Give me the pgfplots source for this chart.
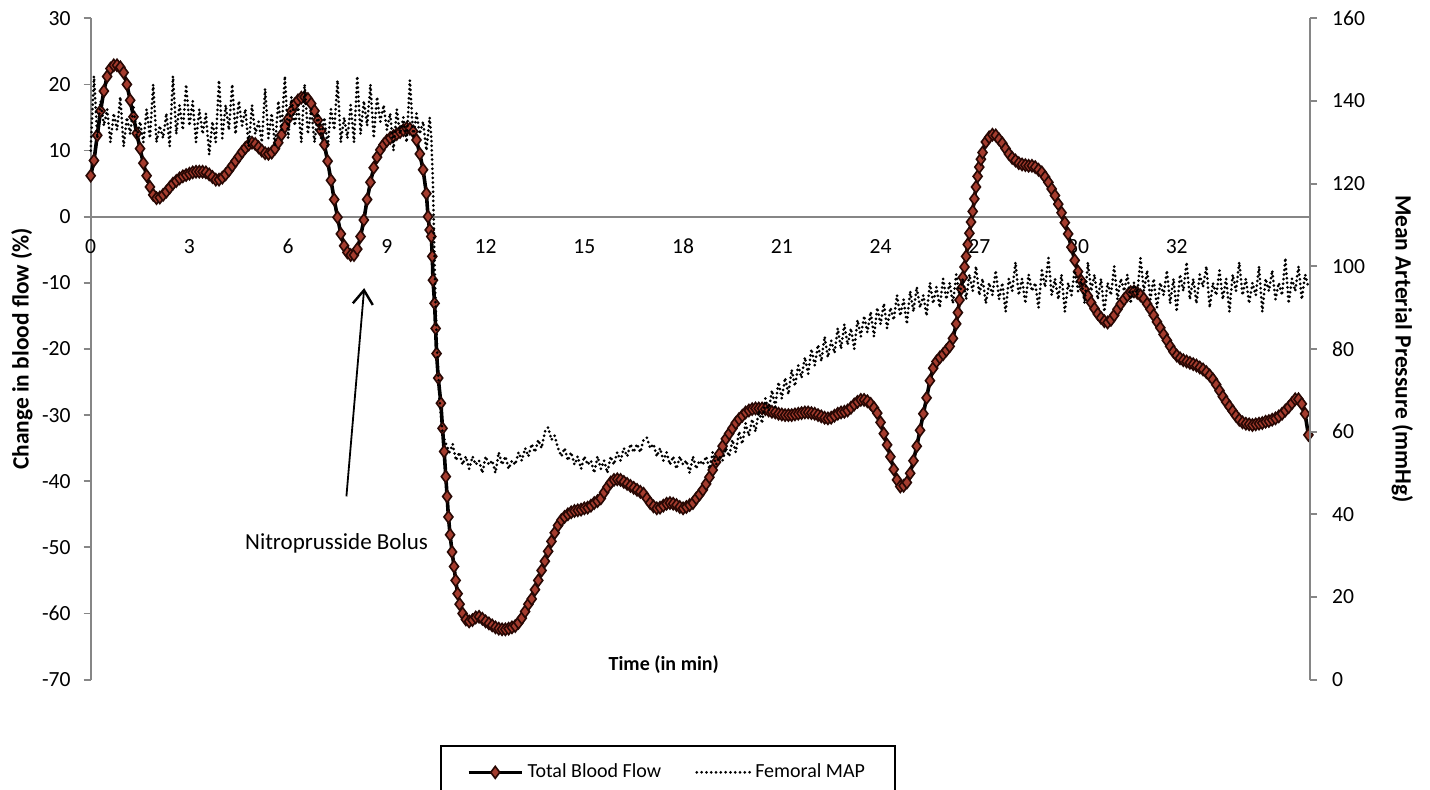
\documentclass[border=0pt]{standalone}
\usepackage{fontspec}
\setmainfont{Carlito}
\usepackage{pgfplots}
\pgfplotsset{compat=1.18}
\usetikzlibrary{arrows.meta}
\definecolor{axisgray}{RGB}{134,134,134}
\definecolor{flowred}{RGB}{164,60,46}
\definecolor{flowdark}{RGB}{40,8,4}
\begin{document}
\begin{tikzpicture}
\path[use as bounding box] (-45.35pt,-54.7pt) rectangle (669.65pt,339.8pt);
\begin{axis}[
  at={(0pt,0pt)}, anchor=south west,
  scale only axis, width=609.65pt, height=330.65pt,
  xmin=0, xmax=37.05, ymin=-70, ymax=30,
  clip=false,
  axis x line*=middle, axis y line*=left,
  hide obscured x ticks=false,
  x axis line style={draw=axisgray, line width=0.9pt, -},
  y axis line style={draw=axisgray, line width=0.9pt, -},
  xtick={0,3,6,9,12,15,18,21,24,27,30,33},
  xticklabels={0,3,6,9,12,15,18,21,24,27,30,32},
  xtick style={draw=none},
  ytick={-70,-60,-50,-40,-30,-20,-10,0,10,20,30},
  yticklabels={-70,-60,-50,-40,-30,-20,-10,0,10,20,30},
  ytick style={draw=axisgray, line width=0.9pt},
  tick align=outside, major tick length=3.5pt,
  tick label style={font=\fontsize{10.8}{13}\selectfont},
  xticklabel style={anchor=base, yshift=-15pt},
  yticklabel style={xshift=-3pt},
  ylabel={\textbf{Change in blood flow (\%)}},
  ylabel style={at={(axis description cs:-0.0563,0.5)}, anchor=center, rotate=0, font=\fontsize{11.7}{14}\selectfont},
  xlabel={\textbf{Time (in min)}},
  xlabel style={at={(axis description cs:0.470,0.022)}, anchor=center, font=\fontsize{10}{12}\selectfont},
  legend columns=2,
  legend cell align=left,
  legend style={at={(axis description cs:0.2865,-0.0989)}, anchor=north west,
    draw=black, line width=0.9pt, inner xsep=13pt, inner ysep=7pt,
    font=\fontsize{10}{12}\selectfont,
    /tikz/every even column/.append style={column sep=15pt}},
  legend image code/.code={\draw[mark repeat=2,mark phase=2,#1] plot coordinates {(0pt,0pt) (13.25pt,0pt) (26.5pt,0pt)};},
]
\addplot[draw=black, line width=1.8pt, mark=diamond*, mark size=3pt,
  mark options={solid, fill=flowred, draw=flowdark, line width=0.8pt}] coordinates {
(0.0,6.2) (0.1,8.5) (0.2,12.3) (0.3,16.0) (0.4,19.0) (0.5,21.2) (0.6,22.4) (0.7,22.9) (0.8,22.9) (0.9,22.6)
(1.0,21.8) (1.1,20.0) (1.2,17.6) (1.3,15.1) (1.4,12.6) (1.5,10.3) (1.6,8.1) (1.7,6.2) (1.8,4.5) (1.9,3.3)
(2.0,2.8) (2.1,2.9) (2.2,3.3) (2.3,3.8) (2.4,4.4) (2.5,5.0) (2.6,5.4) (2.7,5.8) (2.8,6.1) (2.9,6.3)
(3.0,6.5) (3.1,6.7) (3.2,6.8) (3.3,6.8) (3.4,6.8) (3.5,6.7) (3.6,6.4) (3.7,6.0) (3.8,5.6) (3.9,5.6)
(4.0,5.9) (4.1,6.4) (4.2,7.0) (4.3,7.7) (4.4,8.4) (4.5,9.1) (4.6,9.8) (4.7,10.4) (4.8,10.9) (4.9,11.2)
(5.0,11.0) (5.1,10.5) (5.2,10.0) (5.3,9.6) (5.4,9.5) (5.5,9.7) (5.6,10.3) (5.7,11.2) (5.8,12.4) (5.9,13.6)
(6.0,14.8) (6.1,16.0) (6.2,17.0) (6.3,17.6) (6.4,18.0) (6.5,18.1) (6.6,17.8) (6.7,17.1) (6.8,16.0) (6.9,14.6)
(7.0,13.0) (7.1,10.9) (7.2,8.4) (7.3,5.5) (7.4,2.6) (7.5,-0.1) (7.6,-2.6) (7.7,-4.4) (7.8,-5.4) (7.9,-5.8)
(8.0,-5.8) (8.1,-4.9) (8.2,-3.0) (8.3,-0.5) (8.4,2.6) (8.5,5.2) (8.6,7.4) (8.7,9.0) (8.8,10.1) (8.9,10.9)
(9.0,11.5) (9.1,11.9) (9.2,12.2) (9.3,12.5) (9.4,12.8) (9.5,13.1) (9.6,13.4) (9.7,13.3) (9.8,12.9) (9.9,11.6)
(10.0,9.5) (10.1,7.1) (10.2,3.5) (10.25,0.0) (10.3,-2.0) (10.35,-3.0) (10.38,-6.0) (10.40,-9.6) (10.45,-13.1) (10.48,-16.9)
(10.51,-20.7) (10.56,-24.4) (10.64,-28.2) (10.69,-32.0) (10.74,-35.5) (10.79,-39.3) (10.83,-42.3) (10.87,-45.4) (10.92,-48.1) (10.98,-50.7)
(11.04,-52.9) (11.09,-55.0) (11.15,-57.0) (11.21,-58.6) (11.3,-60.0) (11.4,-60.9) (11.5,-61.2) (11.6,-61.0) (11.7,-60.6) (11.8,-60.5)
(11.9,-60.8) (12.0,-61.2) (12.1,-61.5) (12.2,-61.8) (12.3,-62.1) (12.4,-62.3) (12.5,-62.4) (12.6,-62.4) (12.7,-62.3) (12.8,-62.1)
(12.9,-61.9) (13.0,-61.4) (13.1,-60.7) (13.2,-59.7) (13.3,-58.6) (13.4,-57.8) (13.5,-56.4) (13.6,-55.0) (13.7,-53.5) (13.8,-52.1)
(13.9,-50.6) (14.0,-49.1) (14.1,-47.8) (14.2,-46.7) (14.3,-45.9) (14.4,-45.4) (14.5,-45.0) (14.6,-44.7) (14.7,-44.5) (14.8,-44.4)
(14.9,-44.3) (15.0,-44.1) (15.1,-44.0) (15.2,-43.7) (15.3,-43.3) (15.4,-43.0) (15.5,-42.6) (15.6,-41.7) (15.7,-40.9) (15.8,-40.2)
(15.9,-39.8) (16.0,-39.7) (16.1,-39.8) (16.2,-40.1) (16.3,-40.4) (16.4,-40.7) (16.5,-41.0) (16.6,-41.3) (16.7,-41.6) (16.8,-41.9)
(16.9,-42.6) (17.0,-43.3) (17.1,-43.8) (17.2,-44.1) (17.3,-44.0) (17.4,-43.7) (17.5,-43.4) (17.6,-43.3) (17.7,-43.4) (17.8,-43.6)
(17.9,-43.9) (18.0,-44.1) (18.1,-43.9) (18.2,-43.6) (18.3,-43.3) (18.4,-42.6) (18.5,-42.0) (18.6,-41.3) (18.7,-40.4) (18.8,-39.4)
(18.9,-38.3) (19.0,-37.1) (19.1,-35.9) (19.2,-34.7) (19.3,-33.6) (19.4,-32.8) (19.5,-32.0) (19.6,-31.2) (19.7,-30.6) (19.8,-30.1)
(19.9,-29.6) (20.0,-29.3) (20.1,-29.1) (20.2,-29.0) (20.3,-29.0) (20.4,-29.0) (20.5,-29.1) (20.6,-29.3) (20.7,-29.5) (20.8,-29.6)
(20.9,-29.8) (21.0,-29.9) (21.1,-30.0) (21.2,-30.0) (21.3,-30.0) (21.4,-29.9) (21.5,-29.8) (21.6,-29.7) (21.7,-29.6) (21.8,-29.6)
(21.9,-29.7) (22.0,-29.8) (22.1,-30.0) (22.2,-30.2) (22.3,-30.4) (22.4,-30.5) (22.5,-30.4) (22.6,-30.1) (22.7,-29.8) (22.8,-29.6)
(22.9,-29.5) (23.0,-29.3) (23.1,-28.9) (23.2,-28.4) (23.3,-28.0) (23.4,-27.7) (23.5,-27.7) (23.6,-27.9) (23.7,-28.3) (23.8,-28.9)
(23.9,-29.7) (24.0,-31.1) (24.1,-32.8) (24.2,-34.5) (24.3,-36.3) (24.4,-38.2) (24.5,-39.8) (24.6,-40.8) (24.7,-40.7) (24.8,-40.2)
(24.9,-38.8) (25.0,-36.9) (25.1,-34.7) (25.2,-32.3) (25.3,-29.8) (25.4,-27.4) (25.5,-24.8) (25.6,-22.9) (25.7,-21.9) (25.8,-21.3)
(25.9,-20.8) (26.0,-20.2) (26.1,-19.6) (26.2,-18.4) (26.3,-16.2) (26.35,-14.5) (26.4,-12.6) (26.45,-10.9) (26.5,-9.2) (26.55,-7.6)
(26.6,-6.0) (26.65,-4.2) (26.7,-2.5) (26.75,-0.8) (26.8,0.8) (26.85,2.7) (26.9,4.5) (26.95,6.1) (27.0,7.5) (27.05,8.7)
(27.1,9.7) (27.2,11.3) (27.3,12.0) (27.4,12.4) (27.5,12.3) (27.6,11.7) (27.7,11.1) (27.8,10.3) (27.9,9.5) (28.0,8.9)
(28.1,8.5) (28.2,8.1) (28.3,7.9) (28.4,7.8) (28.5,7.7) (28.6,7.7) (28.7,7.5) (28.8,7.1) (28.9,6.7) (29.0,6.0)
(29.1,5.2) (29.2,4.2) (29.3,3.2) (29.4,1.9) (29.5,0.6) (29.6,-0.9) (29.7,-2.6) (29.8,-4.6) (29.9,-6.6) (30.0,-8.3)
(30.1,-9.7) (30.2,-11.0) (30.3,-12.0) (30.4,-13.0) (30.5,-13.9) (30.6,-14.7) (30.7,-15.3) (30.8,-15.8) (30.9,-16.0) (31.0,-15.6)
(31.1,-14.9) (31.2,-14.0) (31.3,-13.2) (31.4,-12.5) (31.5,-11.9) (31.6,-11.4) (31.7,-11.3) (31.8,-11.5) (31.9,-11.9) (32.0,-12.4)
(32.1,-13.2) (32.2,-14.0) (32.3,-14.9) (32.4,-15.9) (32.5,-16.8) (32.6,-17.8) (32.7,-18.7) (32.8,-19.6) (32.9,-20.4) (33.0,-21.0)
(33.1,-21.4) (33.2,-21.7) (33.3,-21.9) (33.4,-22.1) (33.5,-22.3) (33.6,-22.5) (33.7,-22.8) (33.8,-23.1) (33.9,-23.5) (34.0,-24.0)
(34.1,-24.6) (34.2,-25.4) (34.3,-26.3) (34.4,-27.2) (34.5,-28.0) (34.6,-28.7) (34.7,-29.4) (34.8,-30.1) (34.9,-30.7) (35.0,-31.1)
(35.1,-31.3) (35.2,-31.4) (35.3,-31.5) (35.4,-31.4) (35.5,-31.3) (35.6,-31.2) (35.7,-31.0) (35.8,-30.9) (35.9,-30.7) (36.0,-30.5)
(36.1,-30.2) (36.2,-29.8) (36.3,-29.3) (36.4,-28.8) (36.5,-28.2) (36.6,-27.6) (36.7,-27.6) (36.8,-28.3) (36.9,-29.8) (37.0,-33.0)
};
\addlegendentry{Total Blood Flow}
\addlegendimage{black, line width=1.5pt, line cap=round, dash pattern=on 0pt off 2.4pt}
\addlegendentry{Femoral MAP}
\draw[line width=0.9pt, -{Straight Barb[length=7pt,width=10pt,line width=1.2pt]}]
  (axis cs:7.77,-42.3) -- (axis cs:8.31,-10.8);
\node[font=\fontsize{11.5}{14}\selectfont] at (axis cs:7.47,-49.4) {Nitroprusside Bolus};
\end{axis}
\begin{axis}[
  at={(0pt,0pt)}, anchor=south west,
  scale only axis, width=609.65pt, height=330.65pt,
  xmin=0, xmax=37.05, ymin=0, ymax=160,
  clip=false,
  axis x line=none, axis y line*=right,
  y axis line style={draw=axisgray, line width=0.9pt, -},
  ytick={0,20,40,60,80,100,120,140,160},
  yticklabels={0,20,40,60,80,100,120,140,160},
  ytick style={draw=axisgray, line width=0.9pt},
  tick align=outside, major tick length=3.5pt,
  tick label style={font=\fontsize{10.8}{13}\selectfont},
  yticklabel style={xshift=4pt},
  ylabel={\textbf{Mean Arterial Pressure (mmHg)}},
  ylabel style={at={(axis description cs:1.0756,0.5)}, anchor=center, rotate=180, font=\fontsize{11.7}{14}\selectfont},
]
\addplot[black, line width=1.5pt, line cap=round, dash pattern=on 0pt off 2.3pt] coordinates {
(0.0,128) (0.1,146) (0.2,131) (0.3,140) (0.4,134) (0.5,138) (0.6,130) (0.7,137) (0.8,133) (0.9,141)
(1.0,129) (1.1,136) (1.2,132) (1.3,139) (1.4,131) (1.5,135) (1.6,130) (1.7,138) (1.8,131) (1.9,144)
(2.0,130) (2.1,134) (2.2,131) (2.3,137) (2.4,129) (2.5,146) (2.6,132) (2.7,139) (2.8,133) (2.9,144)
(3.0,134) (3.1,140) (3.2,130) (3.3,138) (3.4,132) (3.5,137) (3.6,127) (3.7,135) (3.8,130) (3.9,145)
(4.0,131) (4.1,139) (4.2,133) (4.3,144) (4.4,132) (4.5,140) (4.6,134) (4.7,138) (4.8,129) (4.9,139)
(5.0,132) (5.1,135) (5.2,130) (5.3,143) (5.4,131) (5.5,137) (5.6,129) (5.7,140) (5.8,133) (5.9,146)
(6.0,131) (6.1,141) (6.2,134) (6.3,139) (6.4,130) (6.5,144) (6.6,132) (6.7,138) (6.8,130) (6.9,137)
(7.0,131) (7.1,136) (7.2,129) (7.3,138) (7.4,133) (7.5,145) (7.6,130) (7.7,136) (7.8,131) (7.9,139)
(8.0,130) (8.1,146) (8.2,132) (8.3,140) (8.4,134) (8.5,144) (8.6,131) (8.7,141) (8.8,135) (8.9,139)
(9.0,133) (9.1,137) (9.2,128) (9.3,138) (9.4,132) (9.5,136) (9.6,130) (9.7,145) (9.8,131) (9.9,137)
(10.0,132) (10.1,135) (10.2,128) (10.3,136) (10.35,131) (10.4,120) (10.45,100) (10.5,85) (10.55,75) (10.6,68)
(10.65,63) (10.7,59) (10.8,57) (10.9,55) (11.0,57) (11.1,53) (11.2,55) (11.3,52) (11.4,54) (11.5,51)
(11.6,54) (11.7,52) (11.8,53) (11.9,50) (12.0,54) (12.1,52) (12.2,53) (12.3,50) (12.4,55) (12.5,52)
(12.6,54) (12.7,51) (12.8,53) (12.9,52) (13.0,55) (13.1,53) (13.2,56) (13.3,54) (13.4,57) (13.5,55)
(13.6,58) (13.7,56) (13.8,60) (13.9,61) (14.0,58) (14.1,59) (14.2,56) (14.3,54) (14.4,56) (14.5,53)
(14.6,55) (14.7,52) (14.8,54) (14.9,51) (15.0,54) (15.1,52) (15.2,53) (15.3,50) (15.4,54) (15.5,51)
(15.6,53) (15.7,50) (15.8,54) (15.9,52) (16.0,55) (16.1,53) (16.2,56) (16.3,54) (16.4,57) (16.5,55)
(16.6,57) (16.7,55) (16.8,58) (16.9,58.5) (17.0,56) (17.1,57) (17.2,54) (17.3,56) (17.4,53) (17.5,55)
(17.6,52) (17.7,54) (17.8,51) (17.9,54) (18.0,52) (18.1,53) (18.2,50) (18.3,54) (18.4,51) (18.5,53)
(18.6,52) (18.7,54) (18.8,51) (18.9,55) (19.0,52) (19.1,54) (19.2,53) (19.3,56) (19.4,54) (19.5,58)
(19.6,55) (19.7,60) (19.8,57) (19.9,62) (20.0,59) (20.1,63) (20.2,60) (20.3,65) (20.4,62) (20.5,68)
(20.6,65) (20.7,70) (20.8,66) (20.9,72) (21.0,68) (21.1,73) (21.2,69) (21.3,75) (21.4,71) (21.5,76)
(21.6,73) (21.7,78) (21.8,74) (21.9,80) (22.0,76) (22.1,81) (22.2,77) (22.3,83) (22.4,78) (22.5,82)
(22.6,79) (22.7,85) (22.8,80) (22.9,86) (23.0,81) (23.1,85) (23.2,80) (23.3,87) (23.4,83) (23.5,88)
(23.6,84) (23.7,89) (23.8,83) (23.9,90) (24.0,86) (24.1,91) (24.2,85) (24.3,90) (24.4,87) (24.5,93)
(24.6,88) (24.7,92) (24.8,86) (24.9,94) (25.0,89) (25.1,95) (25.2,90) (25.3,93) (25.4,88) (25.5,96)
(25.6,91) (25.7,95) (25.8,90) (25.9,97) (26.0,92) (26.1,96) (26.2,91) (26.3,98) (26.4,93) (26.5,97)
(26.6,92) (26.7,98) (26.8,94) (26.9,100) (27.0,93) (27.1,97) (27.2,91) (27.3,96) (27.4,93) (27.5,99)
(27.6,92) (27.7,96) (27.8,89) (27.9,97) (28.0,94) (28.1,101) (28.2,93) (28.3,97) (28.4,91) (28.5,98)
(28.6,94) (28.7,96) (28.8,90) (28.9,99) (29.0,95) (29.1,102) (29.2,93) (29.3,97) (29.4,92) (29.5,98)
(29.6,89) (29.7,96) (29.8,93) (29.9,99) (30.0,94) (30.1,97) (30.2,91) (30.3,101) (30.4,94) (30.5,98)
(30.6,92) (30.7,97) (30.8,89) (30.9,96) (31.0,93) (31.1,100) (31.2,92) (31.3,97) (31.4,94) (31.5,98)
(31.6,91) (31.7,96) (31.8,93) (31.9,102) (32.0,94) (32.1,99) (32.2,92) (32.3,97) (32.4,90) (32.5,96)
(32.6,93) (32.7,99) (32.8,91) (32.9,97) (33.0,89) (33.1,98) (33.2,94) (33.3,101) (33.4,92) (33.5,97)
(33.6,91) (33.7,98) (33.8,95) (33.9,100) (34.0,90) (34.1,96) (34.2,93) (34.3,99) (34.4,92) (34.5,97)
(34.6,89) (34.7,98) (34.8,94) (34.9,101) (35.0,93) (35.1,97) (35.2,91) (35.3,96) (35.4,93) (35.5,100)
(35.6,89) (35.7,97) (35.8,94) (35.9,99) (36.0,92) (36.1,96) (36.2,93) (36.3,102) (36.4,91) (36.5,97)
(36.6,94) (36.7,100) (36.8,92) (36.9,98) (37.0,95)
};
\end{axis}
\end{tikzpicture}
\end{document}
